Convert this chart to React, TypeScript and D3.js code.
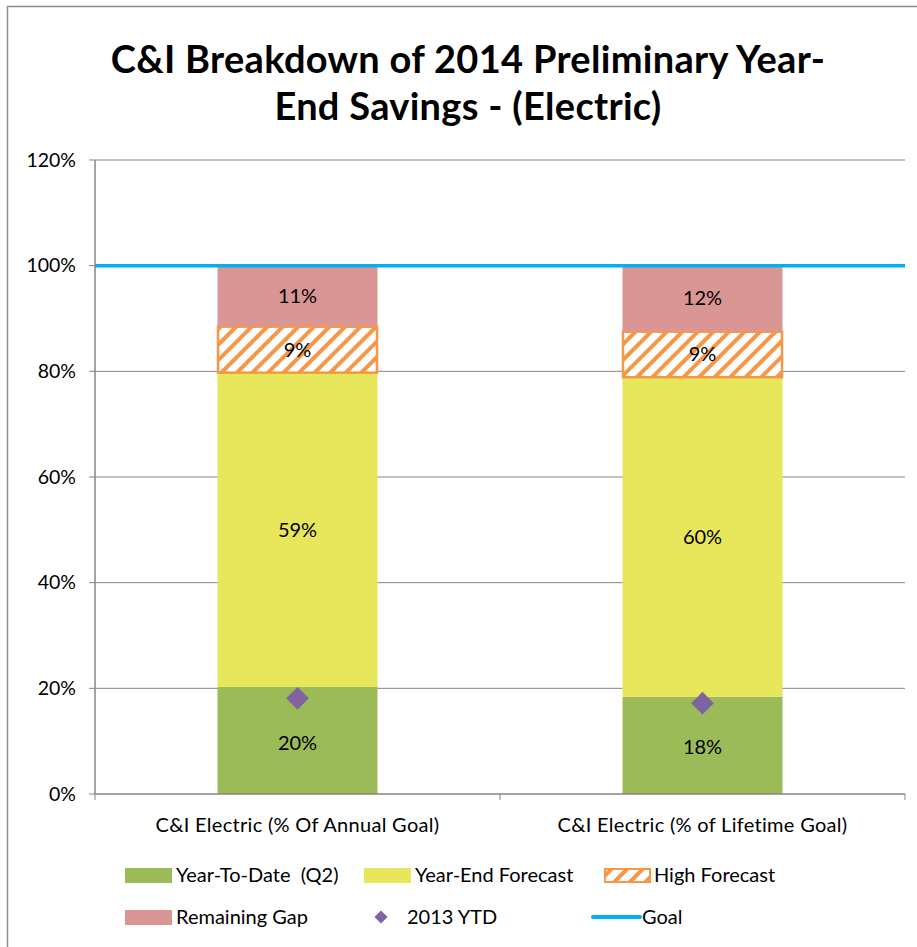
import * as d3 from 'd3';

const categories = ['C&I Electric (% Of Annual Goal)', 'C&I Electric (% of Lifetime Goal)'];
const ytd = [20.25, 18.4];
const forecast = [59.4, 60.4];
const highForecast = [8.9, 8.8];
const remainingGap = [11.45, 12.4];
const ytd2013 = [18.1, 17.2];
const goal = 100;
const yTicks = [0, 20, 40, 60, 80, 100, 120];

const W = 917;
const H = 947;
const margin = { top: 160, right: 12, bottom: 153, left: 95 };
const FONT = 'Lato, "Open Sans", sans-serif';

const colors = {
  ytd: '#9BBB59',
  forecast: '#E8E65A',
  high: '#F79646',
  gap: '#D99694',
  diamond: '#8064A2',
  goal: '#00B0F0',
  axis: '#868686',
};

export default function App() {
  const x = d3
    .scaleBand<string>()
    .domain(categories)
    .range([margin.left, W - margin.right])
    .paddingInner(0.605)
    .paddingOuter(0.3025);
  const y = d3.scaleLinear().domain([0, 120]).range([H - margin.bottom, margin.top]);

  const rows = categories.map((c, i) => ({
    cat: c,
    parts: [ytd[i], forecast[i], highForecast[i], remainingGap[i]],
  }));
  const stack = d3
    .stack<{ cat: string; parts: number[] }, number>()
    .keys([0, 1, 2, 3])
    .value((d, k) => d.parts[k]);
  const series = stack(rows);
  const fills = [colors.ytd, colors.forecast, 'url(#hatch)', colors.gap];

  const x0 = margin.left;
  const x1 = W - margin.right;
  const yBase = y(0);
  const diamond = d3.symbol(d3.symbolDiamond2, 330)() ?? '';
  const step = x.step();

  return (
    <svg width={W} height={H} style={{ position: 'absolute', left: 0, top: 0 }} fontFamily={FONT}>
      <defs>
        <pattern id="hatch" patternUnits="userSpaceOnUse" width={11} height={11} patternTransform="rotate(45)">
          <rect width={11} height={11} fill="#fff" />
          <line x1={2} y1={0} x2={2} y2={11} stroke={colors.high} strokeWidth={4} />
        </pattern>
      </defs>
      <rect x={0} y={0} width={W} height={H} fill="#fff" />
      <rect x={7.5} y={6.5} width={W + 20} height={H + 20} fill="none" stroke="#8c8c8c" strokeWidth={1.5} />

      <text x={468} y={73} textAnchor="middle" fontSize={38} fontWeight="bold" letterSpacing={0.3}>
        C&amp;I Breakdown of 2014 Preliminary Year-
      </text>
      <text x={468} y={120} textAnchor="middle" fontSize={38} fontWeight="bold" letterSpacing={0.3}>
        End Savings - (Electric)
      </text>

      {/* gridlines */}
      {yTicks.slice(1).map((t) => (
        <line key={t} x1={x0} x2={x1} y1={y(t)} y2={y(t)} stroke={colors.axis} strokeWidth={1} />
      ))}
      {yTicks.map((t) => (
        <g key={'t' + t}>
          <line x1={x0 - 6} x2={x0} y1={y(t)} y2={y(t)} stroke={colors.axis} />
          <text x={76} y={y(t)} dy="0.35em" textAnchor="end" fontSize={19.5}>
            {t}%
          </text>
        </g>
      ))}

      {/* bars */}
      {series.map((s, k) =>
        s.map((d) => {
          const bx = x(d.data.cat) ?? 0;
          const top = y(d[1]);
          const bot = y(d[0]);
          const hatched = k === 2;
          return (
            <g key={k + d.data.cat}>
              <rect
                x={bx + (hatched ? 0.5 : 0)}
                y={top + (hatched ? 0.5 : 0)}
                width={x.bandwidth() - (hatched ? 1 : 0)}
                height={bot - top - (hatched ? 1 : 0)}
                fill={fills[k]}
                stroke={hatched ? colors.high : 'none'}
                strokeWidth={hatched ? 2.5 : 0}
              />
              <text
                x={bx + x.bandwidth() / 2}
                y={(top + bot) / 2 + (k === 0 ? 2 : 0)}
                dy="0.35em"
                textAnchor="middle"
                fontSize={20}
              >
                {Math.round(d[1] - d[0])}%
              </text>
            </g>
          );
        })
      )}

      {/* 2013 YTD diamonds */}
      {categories.map((c, i) => (
        <path
          key={'d' + c}
          d={diamond}
          transform={`translate(${(x(c) ?? 0) + x.bandwidth() / 2},${y(ytd2013[i])})`}
          fill={colors.diamond}
        />
      ))}

      {/* goal */}
      <line x1={x0} x2={x1} y1={y(goal)} y2={y(goal)} stroke={colors.goal} strokeWidth={3.5} />

      {/* axes */}
      <line x1={x0} x2={x0} y1={y(120)} y2={yBase} stroke={colors.axis} strokeWidth={1.5} />
      <line x1={x0} x2={x1} y1={yBase} y2={yBase} stroke={colors.axis} strokeWidth={1.5} />
      {[0, 1, 2].map((i) => (
        <line key={'xt' + i} x1={x0 + i * step} x2={x0 + i * step} y1={yBase} y2={yBase + 6} stroke={colors.axis} />
      ))}
      {categories.map((c) => (
        <text
          key={'c' + c}
          x={(x(c) ?? 0) + x.bandwidth() / 2}
          y={832}
          textAnchor="middle"
          fontSize={20}
          letterSpacing={0.3}
        >
          {c}
        </text>
      ))}

      {/* legend */}
      <g fontSize={20}>
        <rect x={125} y={868} width={47} height={15} fill={colors.ytd} />
        <text x={176} y={875} dy="0.35em">{'Year-To-Date \u00A0(Q2)'}</text>
        <rect x={364} y={868} width={47} height={15} fill={colors.forecast} />
        <text x={415} y={875} dy="0.35em">Year-End Forecast</text>
        <rect x={605} y={869} width={45} height={13} fill="url(#hatch)" stroke={colors.high} strokeWidth={2} />
        <text x={654} y={875} dy="0.35em">High Forecast</text>
        <rect x={125} y={910} width={47} height={15} fill={colors.gap} />
        <text x={176} y={917} dy="0.35em">Remaining Gap</text>
        <path d={d3.symbol(d3.symbolDiamond2, 110)() ?? ''} transform="translate(381,917)" fill={colors.diamond} />
        <text x={407} y={917} dy="0.35em">2013 YTD</text>
        <line x1={593} x2={640} y1={917} y2={917} stroke={colors.goal} strokeWidth={4} strokeLinecap="round" />
        <text x={642} y={917} dy="0.35em">Goal</text>
      </g>
    </svg>
  );
}
